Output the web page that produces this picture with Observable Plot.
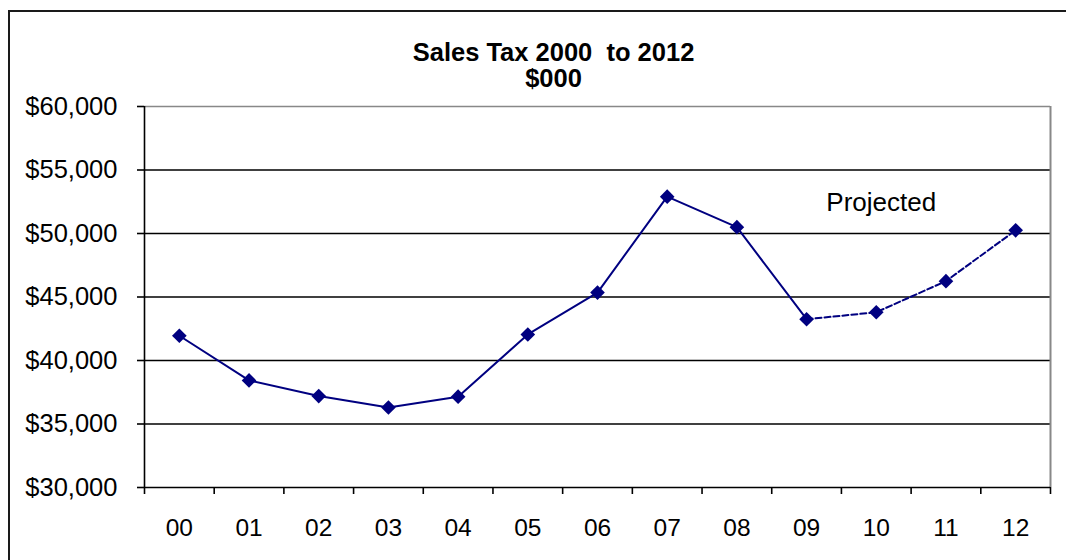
<!DOCTYPE html>
<html><head><meta charset="utf-8">
<script src="https://cdn.jsdelivr.net/npm/d3@7"></script>
<script src="https://cdn.jsdelivr.net/npm/@observablehq/plot@0.6"></script>
<style>
html,body{margin:0;padding:0;background:#fff;overflow:hidden;width:1066px;height:560px}
#border{position:absolute;left:8px;top:10px;width:1100px;height:600px;border:2px solid #1a1a1a;box-sizing:border-box}
#chart{position:absolute;left:0;top:0}
svg text{white-space:pre}
</style></head><body><div id="border"></div><div id="chart"></div>
<script>
const years = ["00","01","02","03","04","05","06","07","08","09","10","11","12"];
const salesTax = [41950, 38430, 37200, 36300, 37150, 42050, 45350, 52900, 50500, 43250, 43800, 46250, 50250];
const projectedStart = "09";
const yTicks = [30000, 35000, 40000, 45000, 50000, 55000, 60000];
const titleLines = ["Sales Tax 2000  to 2012", "$000"];
const annotations = [{label: "Projected", year: "10", value: 52450}];

const idx = years.map((d, i) => i);
const data = years.map((year, i) => ({i, year, value: salesTax[i]}));
const ps = years.indexOf(projectedStart);
const actual = data.slice(0, ps + 1);
const projected = data.slice(ps);
const bounds = d3.range(years.length + 1).map(i => i - 0.5);
const fmt = d => "$" + d3.format(",")(d);
const navy = "#000080";

const chart = Plot.plot({
  width: 1066, height: 560,
  marginLeft: 144, marginRight: 16, marginTop: 106, marginBottom: 73,
  style: {fontFamily: "'Liberation Sans', Arial, sans-serif", background: "transparent", color: "#000"},
  x: {type: "linear", domain: [-0.5, years.length - 0.5]},
  y: {domain: [yTicks[0], yTicks[yTicks.length - 1]]},
  marks: [
    Plot.ruleY(yTicks.slice(1, -1), {stroke: "#000", strokeWidth: 1.6}),
    Plot.ruleY(yTicks.slice(-1), {stroke: "#888", strokeWidth: 1.6}),
    Plot.ruleX([years.length - 0.5], {stroke: "#888", strokeWidth: 2}),
    Plot.ruleX([-0.5], {stroke: "#000", strokeWidth: 1.6}),
    Plot.ruleY(yTicks.slice(0, 1), {stroke: "#000", strokeWidth: 1.6}),
    Plot.axisY({ticks: yTicks, tickFormat: fmt, tickSize: 7, tickPadding: 20, fontSize: 25.5, strokeWidth: 1.6, label: null}),
    Plot.axisX({ticks: idx, tickFormat: i => years[i], tickSize: 0, tickPadding: 31, fontSize: 24.5, label: null}),
    Plot.axisX({ticks: bounds, tickFormat: () => "", tickSize: 7, strokeWidth: 1.6, label: null}),
    Plot.line(actual, {x: "i", y: "value", stroke: navy, strokeWidth: 2}),
    Plot.line(projected, {x: "i", y: "value", stroke: navy, strokeWidth: 2, strokeDasharray: "6,3"}),
    Plot.dot(data, {x: "i", y: "value", symbol: "diamond2", r: 6.6, fill: navy, stroke: "none"}),
    Plot.text(annotations, {x: d => years.indexOf(d.year), y: "value", text: "label", fontSize: 26, fill: "#000", dx: 5}),
    Plot.text([titleLines[0]], {text: d => d, frameAnchor: "top", dx: -44, dy: -46, fontSize: 25.5, fontWeight: "bold", lineAnchor: "bottom", fill: "#000"}),
    Plot.text([titleLines[1]], {text: d => d, frameAnchor: "top", dx: -44, dy: -20, fontSize: 25.5, fontWeight: "bold", lineAnchor: "bottom", fill: "#000"})
  ]
});
document.getElementById("chart").appendChild(chart);
</script></body></html>
